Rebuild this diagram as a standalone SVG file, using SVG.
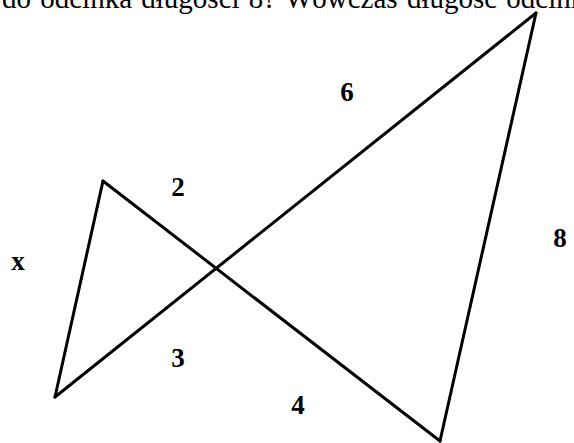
<svg xmlns="http://www.w3.org/2000/svg" width="574" height="443" viewBox="0 0 574 443">
<style>
.edge{stroke:#000;stroke-width:3;fill:none;stroke-linecap:round;stroke-linejoin:round}
.lbl{font-family:"Liberation Serif","Times New Roman",serif;font-weight:bold;font-size:27px;fill:#000;text-anchor:middle}
.top{font-family:"Liberation Serif","Times New Roman",serif;font-size:29px;word-spacing:2px;fill:#000}
</style>
<rect width="574" height="443" fill="#fff"/>
<text class="top" x="2" y="8">do odcinka długości 8? Wówczas długość odcinka</text>
<g id="connectors">
<line class="edge" x1="103" y1="181" x2="440" y2="441"/>
<line class="edge" x1="55" y1="397" x2="536" y2="13"/>
<line class="edge" x1="103" y1="181" x2="55" y2="397"/>
<line class="edge" x1="536" y1="13" x2="440" y2="441"/>
</g>
<g id="label-6"><text class="lbl" x="347" y="101">6</text></g>
<g id="label-2"><text class="lbl" x="178" y="196">2</text></g>
<g id="label-x"><text class="lbl" x="18" y="270">x</text></g>
<g id="label-8"><text class="lbl" x="560" y="247">8</text></g>
<g id="label-3"><text class="lbl" x="178" y="367">3</text></g>
<g id="label-4"><text class="lbl" x="298" y="414">4</text></g>
</svg>
